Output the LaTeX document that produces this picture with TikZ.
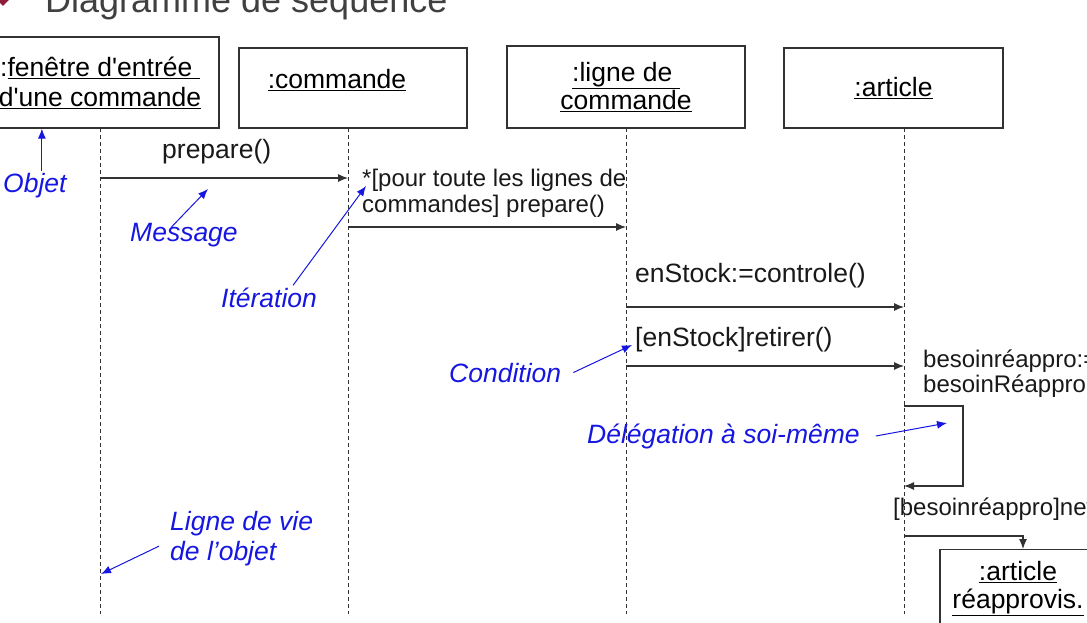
\documentclass[tikz,border=0pt]{standalone}
\usepackage{fontspec}
\setmainfont{Liberation Sans}
\usetikzlibrary{arrows.meta,calc}
\definecolor{annot}{RGB}{22,22,225}
\definecolor{trait}{RGB}{50,50,50}
\definecolor{puce}{RGB}{140,30,60}
\definecolor{titre}{RGB}{64,64,64}

\begin{document}
\begin{tikzpicture}[x=1pt, y=1pt,
  obj/.style={draw=trait, line width=1.2pt, align=center, inner sep=0pt,
              font=\fontsize{26.5}{30}\selectfont},
  otxt/.style={align=center, inner sep=0pt, font=\fontsize{26.5}{30}\selectfont},
  life/.style={draw=trait, line width=0.9pt, dash pattern=on 4pt off 3pt},
  msg/.style={-{Latex[length=10pt,width=8pt]}, draw=trait, line width=1.1pt},
  lbl/.style={anchor=base west, inner sep=0pt, text=black!90,
              font=\fontsize{26.5}{30}\selectfont},
  slbl/.style={anchor=base west, inner sep=0pt, align=left, text=black!90,
               font=\fontsize{24}{26}\selectfont},
  note/.style={anchor=base west, inner sep=2pt, align=left, text=annot,
               font=\fontsize{26.5}{30}\selectfont\itshape},
  nar/.style={-{Latex[length=10pt,width=8pt]}, draw=annot, line width=1pt}
]
\useasboundingbox (0,0) rectangle (1087,-623);
\clip (0,0) rectangle (1087,-623);

% --- slide title ---------------------------------------------------------
\fill[puce] (3,6) -- (9,0) -- (3,-6) -- (-3,0) -- cycle;
\node[anchor=base west, inner sep=0pt, text=titre,
      font=\fontsize{36}{40}\selectfont] (titre) at (45,-13) {Diagramme de séquence};

% --- objects -------------------------------------------------------------
\node[obj, minimum width=238, minimum height=91] (fen) at (100,-82.5)
     {:\underline{fenêtre d\textquotesingle entrée\ }\\\underline{d\textquotesingle une commande}};
\node[obj, minimum width=228, minimum height=80] (cmd) at (353,-88) {};
\node[otxt] (cmdl) at (337,-80) {\underline{:commande}};
\node[obj, minimum width=238, minimum height=82] (lig) at (626,-87)
     {\underline{:ligne de\ }\\[-2pt]\underline{commande}};
\node[obj, minimum width=219, minimum height=80] (art) at (893.5,-88)
     {\underline{:article}};

% --- lifelines -----------------------------------------------------------
\foreach \n/\x in {a/100, b/348, c/626, d/904}{%
  \coordinate (h\n) at (\x,-128);
  \coordinate (e\n) at (\x,-614);
  \draw[life] (h\n) -- (e\n);
}

% --- messages ------------------------------------------------------------
\coordinate (y1) at (0,-178);
\coordinate (y2) at (0,-227);
\coordinate (y3) at (0,-307);
\coordinate (y4) at (0,-366);

\draw[msg] (ha |- y1) -- (hb |- y1);
\node[lbl] (m1) at (162,-158) {prepare()};
\draw[msg] (hb |- y2) -- (hc |- y2);
\node[slbl] (m2) at (362,-212) {*[pour toute les lignes de\\commandes] prepare()};
\draw[msg] (hc |- y3) -- (hd |- y3);
\node[lbl] (m3) at (635,-282) {enStock:=controle()};
\draw[msg] (hc |- y4) -- (hd |- y4);
\node[lbl] (m4) at (635,-346) {[enStock]retirer()};

% --- self call and creation ---------------------------------------------
\node[slbl] (m5) at (923,-392) {besoinréappro:=\\[-1pt]besoinRéappro};
\coordinate (s1) at (963,-406);
\coordinate (s2) at (963,-486);
\draw[msg] (hd |- s1) -- (s1) -- (s2) -- (hd |- s2);

\node[slbl] (m6) at (893,-515) {[besoinréappro]new};
\node[obj, anchor=north, minimum width=156, text height=48pt, text depth=40pt,
      inner ysep=11pt] (rea) at (1018,-549)
     {\underline{:article}\\[-2pt]\underline{réapprovis.}};
\coordinate (c1) at (1023,-536);
\draw[msg] (hd |- c1) -- (c1) -- (c1 |- rea.north);

% --- annotations ---------------------------------------------------------
\node[note] (objet) at (1,-192) {Objet};
\draw[nar] ([xshift=7pt]objet.north) -- ([xshift=7pt]objet.north |- fen.south);

\node[note] (msgn) at (128,-241) {Message};
\coordinate (msgp) at (208,-189);
\draw[nar] ([shift={(-13pt,-7pt)}]msgn.north) -- (msgp);

\node[note] (iter) at (219,-307) {Itération};
\coordinate (iterp) at (366,-186);
\draw[nar] ([xshift=24pt]iter.north) -- (iterp);

\node[note] (cond) at (447,-382) {Condition};
\coordinate (condp) at (632,-345);
\draw[nar] ([xshift=10pt]cond.east) -- (condp);

\node[note] (deleg) at (585,-443) {Délégation à soi-même};
\coordinate (delegp) at (947,-423);
\draw[nar] ([xshift=14pt]deleg.east) -- (delegp);

\node[note] (vie) at (168,-560) {Ligne de vie\\de l’objet};
\coordinate (viep) at (101,-574);
\draw[nar] ([shift={(-9pt,-8pt)}]vie.west) -- (viep);

\end{tikzpicture}
\end{document}
